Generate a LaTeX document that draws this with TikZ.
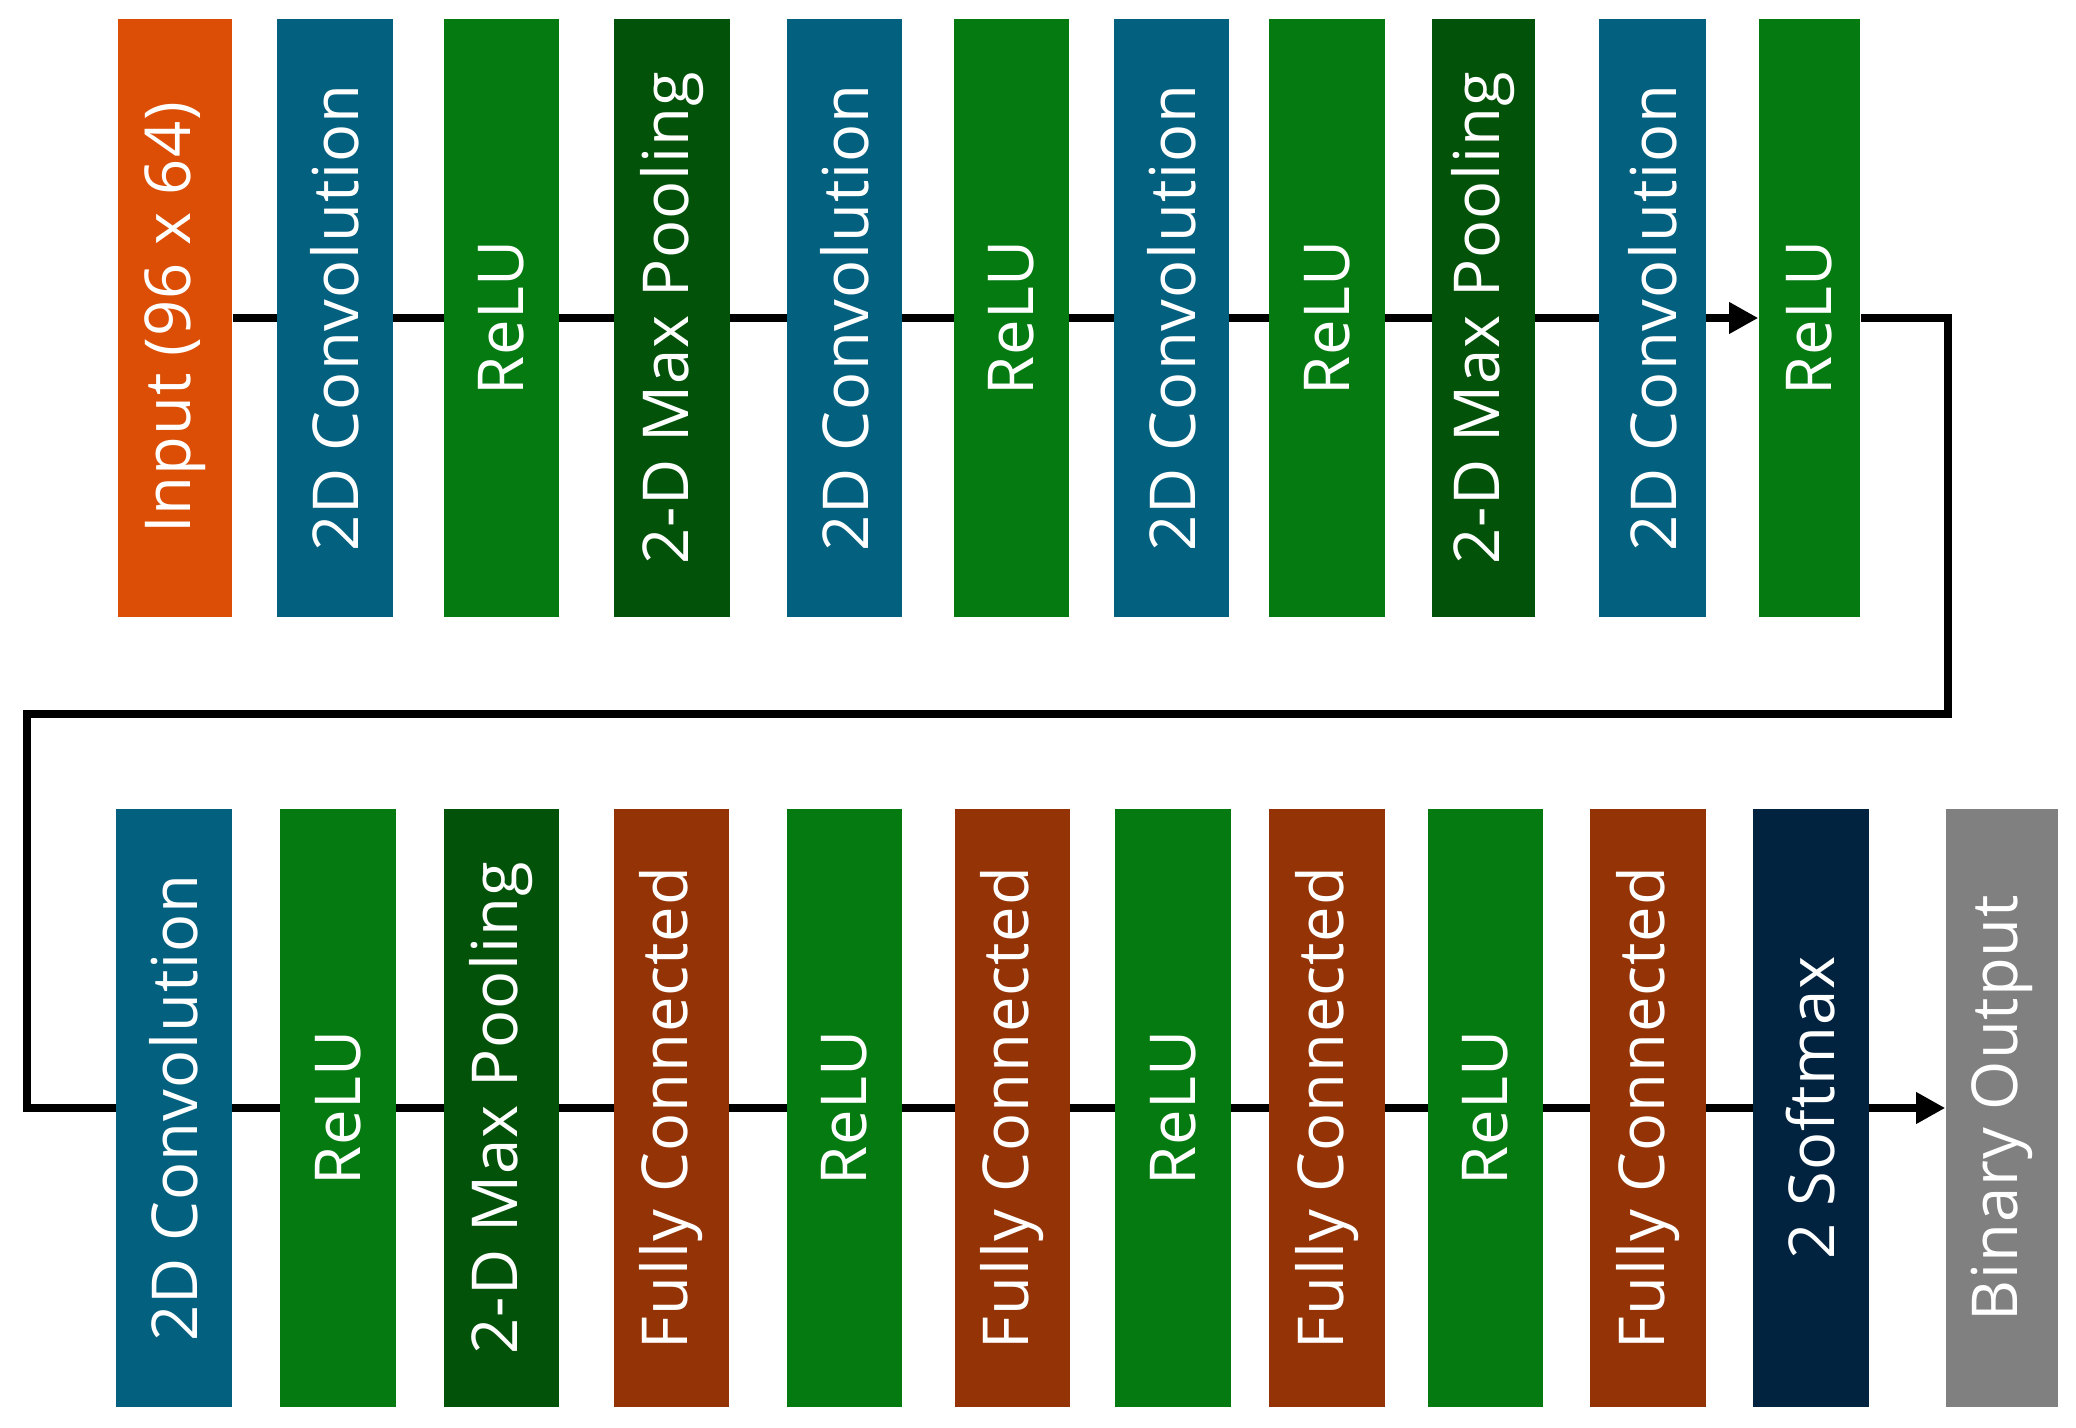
\documentclass[tikz,border=0pt]{standalone}
\usepackage{fontspec}
\setmainfont{Open Sans}[LetterSpace=1.5]
\usetikzlibrary{arrows.meta}
\usetikzlibrary{backgrounds}

\definecolor{inpcol}{HTML}{DC4E05}
\definecolor{convcol}{HTML}{03607F}
\definecolor{relucol}{HTML}{047A11}
\definecolor{poolcol}{HTML}{03520A}
\definecolor{fccol}{HTML}{933306}
\definecolor{softcol}{HTML}{012340}
\definecolor{outcol}{HTML}{808080}

\tikzset{
  layer/.style={rotate=90,inner sep=0pt,minimum width=5.97cm,minimum height=1.15cm,
    text=white,font=\fontsize{18}{20}\selectfont},
  inp/.style={layer,fill=inpcol},
  conv/.style={layer,fill=convcol},
  relu/.style={layer,fill=relucol},
  pool/.style={layer,fill=poolcol},
  fc/.style={layer,fill=fccol},
  soft/.style={layer,fill=softcol},
  outp/.style={layer,fill=outcol},
  flow/.style={line width=2.1pt,arrows={-Triangle[length=8.3pt,width=8.5pt]}}
}

\begin{document}
\begin{tikzpicture}[x=0.01cm,y=-0.01cm]
    \useasboundingbox (0,0) rectangle (2076,1428);
    % first row
    \node[inp,minimum height=1.14cm] (in) at (175,318) {Input (96 x 64)};
    \node[conv,minimum height=1.16cm] (c1) at (335,318) {2D Convolution};
    \node[relu] (r1) at (501.5,318) {ReLU};
    \node[pool,minimum height=1.16cm] (p1) at (672,318) {2-D Max Pooling};
    \node[conv] (c2) at (844.5,318) {2D Convolution};
    \node[relu] (r2) at (1011.5,318) {ReLU};
    \node[conv] (c3) at (1171.5,318) {2D Convolution};
    \node[relu,minimum height=1.16cm] (r3) at (1327,318) {ReLU};
    \node[pool,minimum height=1.03cm] (p2) at (1483.5,318) {2-D Max Pooling};
    \node[conv,minimum height=1.07cm] (c4) at (1652.5,318) {2D Convolution};
    \node[relu,minimum height=1.01cm] (r4) at (1809.5,318) {ReLU};
    % second row
    \node[conv,minimum height=1.16cm] (c5) at (174,1108) {2D Convolution};
    \node[relu,minimum height=1.16cm] (r5) at (338,1108) {ReLU};
    \node[pool] (p3) at (501.5,1108) {2-D Max Pooling};
    \node[fc] (f1) at (671.5,1108) {Fully Connected};
    \node[relu] (r6) at (844.5,1108) {ReLU};
    \node[fc] (f2) at (1012.5,1108) {Fully Connected};
    \node[relu,minimum height=1.16cm] (r7) at (1173,1108) {ReLU};
    \node[fc,minimum height=1.16cm] (f3) at (1327,1108) {Fully Connected};
    \node[relu] (r8) at (1485.5,1108) {ReLU};
    \node[fc,minimum height=1.16cm] (f4) at (1648,1108) {Fully Connected};
    \node[soft,minimum height=1.16cm] (sm) at (1811,1108) {2 Softmax};
    \node[outp,minimum height=1.12cm] (bo) at (2002,1108) {Binary Output};
    \coordinate (tr) at (1948,714);
    \coordinate (tl) at (27,714);
    \begin{scope}[on background layer]
    \draw[flow] (in.south) -- (r4.north);
    \draw[flow,line join=miter] (r4.south) -| (tr) -- (tl) |- (bo.north);
    \end{scope}
\end{tikzpicture}
\end{document}
